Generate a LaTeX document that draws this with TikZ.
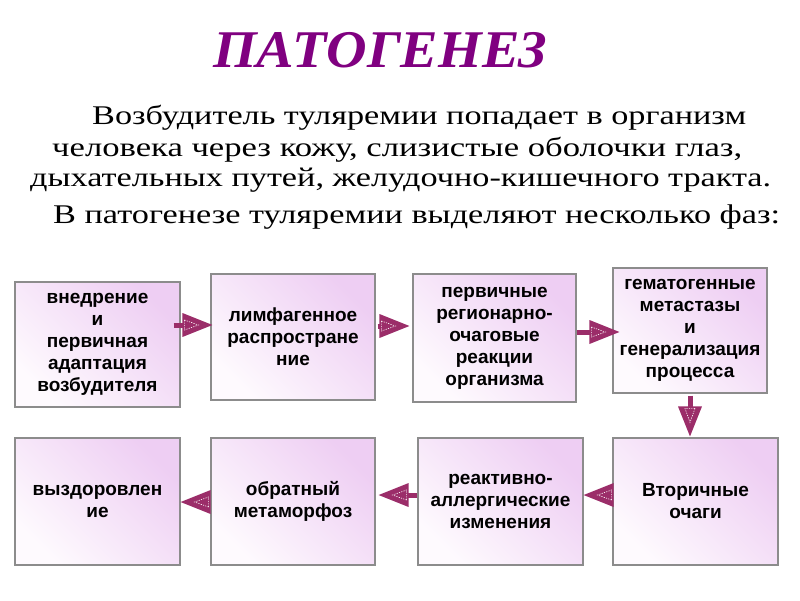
\documentclass[tikz,border=0pt]{standalone}
\usepackage{fontspec}
\setmainfont{Liberation Serif}
\newfontfamily\boxfont{Liberation Sans}
\newfontfamily\bodyfont{Liberation Serif}
\usetikzlibrary{arrows.meta,decorations.markings}
\definecolor{arrowc}{RGB}{155,45,105}
\definecolor{titlec}{RGB}{128,0,128}
\definecolor{boxtop}{RGB}{238,206,243}
\definecolor{boxbot}{RGB}{254,250,254}
\definecolor{boxline}{RGB}{140,140,140}
\tikzset{
  phase/.style={draw=boxline, line width=1.2pt, top color=boxtop, bottom color=boxbot,
    shading angle=-45, rectangle, inner sep=0pt, align=center,
    font=\boxfont\bfseries\fontsize{19}{22}\selectfont},
  conn/.style={draw=arrowc, line width=5pt, shorten >=26pt,
    postaction={decorate, decoration={markings, mark=at position 1 with {
      \fill[arrowc, shorten >=0pt] (0,0) -- (-30,-12) -- (-30,12) -- cycle;
      \draw[white, shorten >=0pt, line width=0.6pt, dash pattern=on 1.2pt off 1.2pt]
        (-28,-5) -- (-14,0) -- (-28,5) -- cycle;}}}},
  bodyline/.style={anchor=base west, inner sep=0pt, font=\bodyfont\fontsize{27}{32}\selectfont},
}
\begin{document}
\begin{tikzpicture}[x=1pt,y=-1pt]
\useasboundingbox (0,0) rectangle (800,600);
\node[anchor=base west, inner sep=0pt, text=titlec,
  font=\fontsize{53}{60}\selectfont\bfseries\itshape] (title) at (213,67)
  {\resizebox{334pt}{\height}{ПАТОГЕНЕЗ}};
\node[bodyline] (t1) at (92,124) {\resizebox{654pt}{\height}{Возбудитель туляремии попадает в организм}};
\node[bodyline] (t2) at (52,156) {\resizebox{690pt}{\height}{человека через кожу, слизистые оболочки глаз,}};
\node[bodyline] (t3) at (30,186) {\resizebox{741pt}{\height}{дыхательных путей, желудочно-кишечного тракта.}};
\node[bodyline] (t4) at (53,223) {\resizebox{727pt}{\height}{В патогенезе туляремии выделяют несколько фаз:}};

\node[phase, minimum width=165, minimum height=125] (b1) at (97.5,344.5)
  {внедрение\\и\\первичная\\адаптация\\возбудителя};
\node[phase, minimum width=164, minimum height=126] (b2) at (293,337)
  {лимфагенное\\распростране\\ние};
\node[phase, minimum width=163, minimum height=128] (b3) at (494.5,338)
  {первичные\\регионарно-\\очаговые\\реакции\\организма};
\node[phase, minimum width=154, minimum height=125] (b4) at (690,330.5)
  {гематогенные\\метастазы\\и\\генерализация\\процесса};
\node[phase, minimum width=165, minimum height=127] (b5) at (97.5,501.5)
  {выздоровлен\\ие};
\node[phase, minimum width=164, minimum height=127] (b6) at (293,501.5)
  {обратный\\метаморфоз};
\node[phase, minimum width=165, minimum height=127] (b7) at (500.5,501.5)
  {реактивно-\\аллергические\\изменения};
\node[phase, minimum width=165, minimum height=127] (b8) at (695.5,501.5)
  {Вторичные\\очаги};

\draw[conn] ([shift={(-7,-19.5)}]b1.east) -- ([shift={(2,-19.5)}]b2.west |- b1.east);
\draw[conn] ([shift={(2,-11)}]b2.east) -- ([shift={(-3,-12)}]b3.west);
\draw[conn] ([shift={(0,-6)}]b3.east) -- ([shift={(7,1.5)}]b4.west);
\draw[conn] ([shift={(0,2)}]b4.south) -- ([shift={(-5.5,-1)}]b8.north);
\draw[conn] ([shift={(0,-6.5)}]b8.west) -- ([shift={(0,-6.5)}]b7.east);
\draw[conn] ([shift={(0,-6.5)}]b7.west) -- ([shift={(3,-6.5)}]b6.east);
\draw[conn] ([shift={(0,0.5)}]b6.west) -- ([shift={(0,0.5)}]b5.east);
\end{tikzpicture}
\end{document}
